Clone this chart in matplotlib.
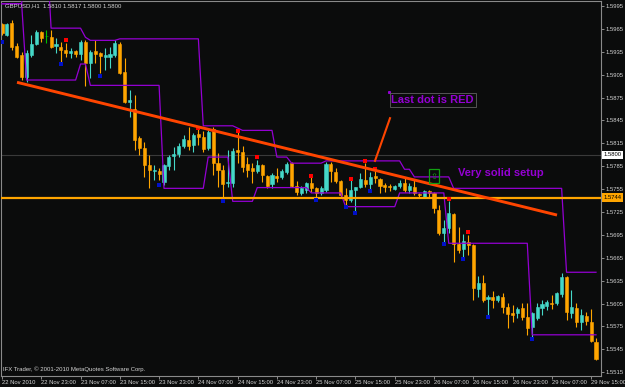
import matplotlib.pyplot as plt
from matplotlib.patches import Rectangle
import numpy as np

plt.rcParams['font.family'] = ['Liberation Sans', 'DejaVu Sans']

# GBPUSD H1, 22 Nov 2010 15:00 .. 29 Nov 2010 16:00
opens = [1.5971, 1.5957, 1.5973, 1.5943, 1.5931, 1.5902, 1.5931, 1.5945, 1.5961, 1.5956,
         1.5954, 1.5943, 1.5941, 1.5937, 1.5933, 1.5936, 1.5932, 1.5948, 1.5920, 1.5936,
         1.5933, 1.5928, 1.5928, 1.5931, 1.5945, 1.5909, 1.5869, 1.5860, 1.5822, 1.5809,
         1.5787, 1.5779, 1.5779, 1.5764, 1.5785, 1.5798, 1.5801, 1.5811, 1.5819, 1.5813,
         1.5827, 1.5823, 1.5809, 1.5834, 1.5789, 1.5780, 1.5763, 1.5763, 1.5806, 1.5804,
         1.5788, 1.5783, 1.5779, 1.5787, 1.5772, 1.5762, 1.5772, 1.5771, 1.5777, 1.5789,
         1.5759, 1.5750, 1.5754, 1.5763, 1.5756, 1.5750, 1.5754, 1.5788, 1.5777, 1.5766,
         1.5747, 1.5741, 1.5754, 1.5758, 1.5767, 1.5762, 1.5772, 1.5768, 1.5760, 1.5759,
         1.5755, 1.5759, 1.5763, 1.5754, 1.5758, 1.5749, 1.5745, 1.5753, 1.5750, 1.5728,
         1.5698, 1.5704, 1.5722, 1.5683, 1.5677, 1.5686, 1.5682, 1.5624, 1.5632, 1.5611,
         1.5614, 1.5610, 1.5614, 1.5601, 1.5593, 1.5593, 1.5599, 1.5587, 1.5574, 1.5586,
         1.5599, 1.5602, 1.5606, 1.5606, 1.5617, 1.5640, 1.5593, 1.5599, 1.5581, 1.5589,
         1.5581, 1.5555]
highs = [1.5973, 1.5973, 1.5977, 1.5947, 1.5935, 1.5937, 1.5957, 1.5964, 1.5962, 1.5964,
         1.5964, 1.5953, 1.5948, 1.5947, 1.5940, 1.5937, 1.5950, 1.5950, 1.5937, 1.5950,
         1.5935, 1.5940, 1.5941, 1.5950, 1.5948, 1.5927, 1.5885, 1.5878, 1.5825, 1.5817,
         1.5800, 1.5787, 1.5783, 1.5788, 1.5800, 1.5810, 1.5815, 1.5826, 1.5836, 1.5829,
         1.5836, 1.5831, 1.5832, 1.5836, 1.5802, 1.5787, 1.5806, 1.5809, 1.5830, 1.5811,
         1.5797, 1.5789, 1.5793, 1.5788, 1.5774, 1.5776, 1.5783, 1.5781, 1.5791, 1.5791,
         1.5766, 1.5759, 1.5764, 1.5771, 1.5758, 1.5759, 1.5791, 1.5791, 1.5783, 1.5767,
         1.5756, 1.5767, 1.5758, 1.5776, 1.5789, 1.5777, 1.5783, 1.5770, 1.5763, 1.5762,
         1.5760, 1.5767, 1.5770, 1.5763, 1.5767, 1.5750, 1.5754, 1.5754, 1.5751, 1.5734,
         1.5714, 1.5739, 1.5724, 1.5705, 1.5696, 1.5695, 1.5683, 1.5641, 1.5642, 1.5616,
         1.5621, 1.5616, 1.5619, 1.5606, 1.5603, 1.5601, 1.5606, 1.5606, 1.5594, 1.5606,
         1.5610, 1.5610, 1.5616, 1.5620, 1.5645, 1.5641, 1.5623, 1.5606, 1.5598, 1.5594,
         1.5598, 1.5560]
lows = [1.5957, 1.5956, 1.5937, 1.5927, 1.5898, 1.5895, 1.5928, 1.5944, 1.5948, 1.5947,
        1.5940, 1.5933, 1.5922, 1.5928, 1.5927, 1.5928, 1.5924, 1.5890, 1.5901, 1.5920,
        1.5907, 1.5911, 1.5914, 1.5928, 1.5906, 1.5868, 1.5850, 1.5806, 1.5800, 1.5771,
        1.5756, 1.5767, 1.5767, 1.5760, 1.5780, 1.5780, 1.5797, 1.5809, 1.5806, 1.5804,
        1.5813, 1.5804, 1.5806, 1.5774, 1.5758, 1.5745, 1.5758, 1.5758, 1.5789, 1.5777,
        1.5771, 1.5763, 1.5776, 1.5764, 1.5756, 1.5756, 1.5764, 1.5768, 1.5775, 1.5758,
        1.5747, 1.5747, 1.5750, 1.5751, 1.5745, 1.5747, 1.5751, 1.5764, 1.5763, 1.5745,
        1.5734, 1.5738, 1.5725, 1.5756, 1.5758, 1.5754, 1.5763, 1.5750, 1.5751, 1.5753,
        1.5754, 1.5756, 1.5751, 1.5750, 1.5747, 1.5745, 1.5743, 1.5745, 1.5724, 1.5695,
        1.5686, 1.5698, 1.5660, 1.5671, 1.5666, 1.5669, 1.5610, 1.5614, 1.5607, 1.5590,
        1.5599, 1.5607, 1.5593, 1.5573, 1.5581, 1.5586, 1.5583, 1.5564, 1.5560, 1.5583,
        1.5590, 1.5597, 1.5598, 1.5603, 1.5614, 1.5583, 1.5586, 1.5574, 1.5570, 1.5577,
        1.5555, 1.5531]
closes = [1.5960, 1.5971, 1.5941, 1.5928, 1.5902, 1.5933, 1.5945, 1.5961, 1.5953, 1.5956,
          1.5941, 1.5945, 1.5937, 1.5933, 1.5936, 1.5932, 1.5948, 1.5920, 1.5935, 1.5932,
          1.5929, 1.5931, 1.5932, 1.5947, 1.5907, 1.5869, 1.5872, 1.5819, 1.5809, 1.5787,
          1.5780, 1.5780, 1.5775, 1.5787, 1.5797, 1.5801, 1.5811, 1.5821, 1.5811, 1.5826,
          1.5823, 1.5808, 1.5830, 1.5789, 1.5780, 1.5762, 1.5764, 1.5805, 1.5804, 1.5784,
          1.5780, 1.5779, 1.5787, 1.5774, 1.5759, 1.5774, 1.5770, 1.5779, 1.5788, 1.5759,
          1.5751, 1.5756, 1.5763, 1.5756, 1.5750, 1.5756, 1.5788, 1.5779, 1.5766, 1.5747,
          1.5741, 1.5754, 1.5758, 1.5768, 1.5762, 1.5771, 1.5770, 1.5759, 1.5758, 1.5758,
          1.5759, 1.5763, 1.5754, 1.5759, 1.5750, 1.5747, 1.5753, 1.5750, 1.5730, 1.5698,
          1.5704, 1.5724, 1.5683, 1.5675, 1.5687, 1.5682, 1.5625, 1.5632, 1.5610, 1.5614,
          1.5610, 1.5615, 1.5601, 1.5591, 1.5590, 1.5598, 1.5587, 1.5573, 1.5593, 1.5601,
          1.5605, 1.5607, 1.5605, 1.5619, 1.5640, 1.5594, 1.5601, 1.5581, 1.5590, 1.5582,
          1.5556, 1.5532]

# channel indicator (upper / lower band per bar)
upper = [1.5998, 1.5998, 1.5998, 1.5998, 1.5998, 1.6082, 1.6082, 1.6082, 1.6082, 1.6082,
         1.5966, 1.5966, 1.5966, 1.5966, 1.5966, 1.5966, 1.5966, 1.5954, 1.5950, 1.5950,
         1.5950, 1.5950, 1.5950, 1.5950, 1.5952, 1.5952, 1.5952, 1.5952, 1.5952, 1.5952,
         1.5952, 1.5952, 1.5952, 1.5952, 1.5952, 1.5952, 1.5952, 1.5952, 1.5952, 1.5952,
         1.5952, 1.5838, 1.5838, 1.5838, 1.5838, 1.5838, 1.5838, 1.5838, 1.5835, 1.5832,
         1.5832, 1.5832, 1.5832, 1.5832, 1.5832, 1.5832, 1.5797, 1.5797, 1.5797, 1.5789,
         1.5789, 1.5789, 1.5789, 1.5789, 1.5789, 1.5789, 1.5792, 1.5792, 1.5792, 1.5792,
         1.5792, 1.5792, 1.5792, 1.5792, 1.5792, 1.5792, 1.5792, 1.5792, 1.5792, 1.5792,
         1.5792, 1.5792, 1.5781, 1.5781, 1.5771, 1.5771, 1.5771, 1.5771, 1.5771, 1.5771,
         1.5771, 1.5771, 1.5756, 1.5756, 1.5756, 1.5756, 1.5756, 1.5756, 1.5756, 1.5756,
         1.5756, 1.5756, 1.5756, 1.5756, 1.5756, 1.5756, 1.5756, 1.5756, 1.5756, 1.5756,
         1.5756, 1.5756, 1.5756, 1.5756, 1.5756, 1.5646, 1.5646, 1.5646, 1.5646, 1.5646,
         1.5646, 1.5646]
lower = [1.5998, 1.5998, 1.5998, 1.5998, 1.5998, 1.5898, 1.5898, 1.5898, 1.5898, 1.5898,
         1.5898, 1.5898, 1.5898, 1.5898, 1.5898, 1.5898, 1.5919, 1.5919, 1.5891, 1.5891,
         1.5891, 1.5891, 1.5891, 1.5891, 1.5891, 1.5891, 1.5891, 1.5891, 1.5891, 1.5891,
         1.5891, 1.5891, 1.5891, 1.5756, 1.5756, 1.5756, 1.5756, 1.5756, 1.5756, 1.5756,
         1.5756, 1.5756, 1.5797, 1.5797, 1.5797, 1.5797, 1.5797, 1.5739, 1.5739, 1.5739,
         1.5739, 1.5739, 1.5757, 1.5757, 1.5757, 1.5757, 1.5757, 1.5757, 1.5757, 1.5757,
         1.5757, 1.5757, 1.5757, 1.5750, 1.5750, 1.5750, 1.5750, 1.5750, 1.5750, 1.5750,
         1.5732, 1.5732, 1.5732, 1.5732, 1.5732, 1.5732, 1.5732, 1.5732, 1.5732, 1.5732,
         1.5732, 1.5750, 1.5750, 1.5750, 1.5750, 1.5750, 1.5750, 1.5750, 1.5750, 1.5750,
         1.5750, 1.5684, 1.5684, 1.5684, 1.5684, 1.5684, 1.5684, 1.5684, 1.5684, 1.5684,
         1.5684, 1.5684, 1.5684, 1.5684, 1.5684, 1.5684, 1.5684, 1.5684, 1.5564, 1.5564,
         1.5564, 1.5564, 1.5564, 1.5564, 1.5564, 1.5564, 1.5564, 1.5564, 1.5564, 1.5564,
         1.5564, 1.5564]

# fractal dots
red_bars = [13, 40, 48, 52, 63, 71, 74, 76, 91, 95]
red_prices = [1.5950, 1.5835, 1.5831, 1.5797, 1.5772, 1.5768, 1.5792, 1.5781, 1.5742, 1.5699]
blue_bars = [0, 12, 20, 32, 45, 64, 70, 72, 75, 90, 94, 99, 108]
blue_prices = [1.5948, 1.5919, 1.5903, 1.5760, 1.5739, 1.5741, 1.5732, 1.5724, 1.5753,
               1.5683, 1.5664, 1.5588, 1.5558]

# drawn objects
trend_bars = [3.06, 113.06]
trend_prices = [1.5895, 1.5721]
arrow_bars = [75.98, 79.04]
arrow_prices = [1.5792, 1.5848]
bid_price = 1.5800
level_price = 1.5744

time_bars = [0, 8, 16, 24, 32, 40, 48, 56, 64, 72, 80, 88, 96, 104, 112, 120]
time_labels = ["22 Nov 2010", "22 Nov 23:00", "23 Nov 07:00", "23 Nov 15:00",
               "23 Nov 23:00", "24 Nov 07:00", "24 Nov 15:00", "24 Nov 23:00",
               "25 Nov 07:00", "25 Nov 15:00", "25 Nov 23:00", "26 Nov 07:00",
               "26 Nov 15:00", "26 Nov 23:00", "29 Nov 07:00", "29 Nov 15:00"]
price_ticks = [1.5515, 1.5545, 1.5575, 1.5605, 1.5635, 1.5665, 1.5695, 1.5725, 1.5755,
               1.5785, 1.5815, 1.5845, 1.5875, 1.5905, 1.5935, 1.5965, 1.5995]

bg = '#0b0c0c'
bull = '#45d8c8'
bear = '#ffa500'
doji = '#00c000'
purple = '#9400d3'
redline = '#ff4500'
txt = '#d4d4d4'

fig = plt.figure(figsize=(6.25, 3.87), dpi=100, facecolor=bg)
ax = fig.add_axes([1/625, 11/387, 600/625, 375/387])
ax.set_facecolor(bg)

o = np.array(opens)
h = np.array(highs)
l = np.array(lows)
c = np.array(closes)
x = np.arange(len(o))
cols = np.where(c > o, bull, np.where(c < o, bear, doji))

ax.axhline(bid_price, color='#3a3a3a', lw=0.8, zorder=1)
ax.vlines(x, l, h, colors=cols, lw=0.8, zorder=2)
ax.bar(x, np.abs(c - o), bottom=np.minimum(o, c), width=0.62, color=cols,
       edgecolor=cols, linewidth=0.4, zorder=2)

ax.plot(x, upper, color=purple, lw=0.9, zorder=3)
ax.plot(x, lower, color=purple, lw=0.9, zorder=3)
ax.axhline(level_price, color='#ffa500', lw=1.6, zorder=3.5)

ax.plot(red_bars, red_prices, 's', color='#ff0000', ms=3.3, mew=0, zorder=4)
ax.plot(blue_bars, blue_prices, 's', color='#0010c8', ms=3.3, mew=0, zorder=4)

ax.plot(trend_bars, trend_prices, color=redline, lw=2.1, solid_capstyle='butt', zorder=5)
ax.plot(arrow_bars, arrow_prices, color=redline, lw=1.5, zorder=5)

ax.plot(78.83, 1.5882, 's', color=purple, ms=1.2, zorder=5)
ax.text(79.3, 1.5872, "Last dot is RED", color=purple, fontsize=8, fontweight='bold',
        va='center', ha='left', zorder=6,
        bbox=dict(boxstyle='square,pad=0.15', fc='none', ec='#606060', lw=0.6))
ax.text(92.9, 1.5776, "Very solid setup", color=purple, fontsize=8, fontweight='bold',
        va='center', ha='left', zorder=6)
ax.add_patch(Rectangle((86.98, 1.5763), 2.04, 0.0018, fill=False, ec='#12a012', lw=0.9, zorder=6))
ax.text(88.0, 1.5772, "\u21e7", color='#12a012', fontsize=6, ha='center', va='center',
        family='DejaVu Sans', zorder=6)

ax.text(0.006, 0.994, "GBPUSD,H1  1.5810 1.5817 1.5800 1.5800", transform=ax.transAxes,
        color=txt, fontsize=4.3, va='top', ha='left')
ax.text(0.004, 0.012, "IFX Trader, \u00a9 2001-2010 MetaQuotes Software Corp.",
        transform=ax.transAxes, color=txt, fontsize=4.3, va='bottom', ha='left')

ax.set_xlim(-0.2037, 122.02)
ax.set_ylim(1.551, 1.60016)

ax.yaxis.tick_right()
ax.set_yticks(price_ticks)
ax.set_yticklabels([f'{p:.4f}' for p in price_ticks])
ax.set_xticks(time_bars)
ax.set_xticklabels(time_labels, ha='left')
ax.tick_params(axis='y', length=2, width=0.6, color='#a0a0a0', labelsize=4.2,
               labelcolor=txt, pad=1.5)
ax.tick_params(axis='x', length=2, width=0.6, color='#a0a0a0', labelsize=4.2,
               labelcolor=txt, pad=1.2)
for s in ax.spines.values():
    s.set_color('#8a8a8a')
    s.set_linewidth(0.8)

for price, fc in [(bid_price, 'white'), (level_price, '#ffa500')]:
    ax.text(1.004, price, f'{price:.4f}', transform=ax.get_yaxis_transform(),
            ha='left', va='center', fontsize=4.2, color='black', clip_on=False,
            bbox=dict(boxstyle='square,pad=0.3', fc=fc, ec='none'))

fig.savefig('out.png', dpi=100, facecolor=bg)
